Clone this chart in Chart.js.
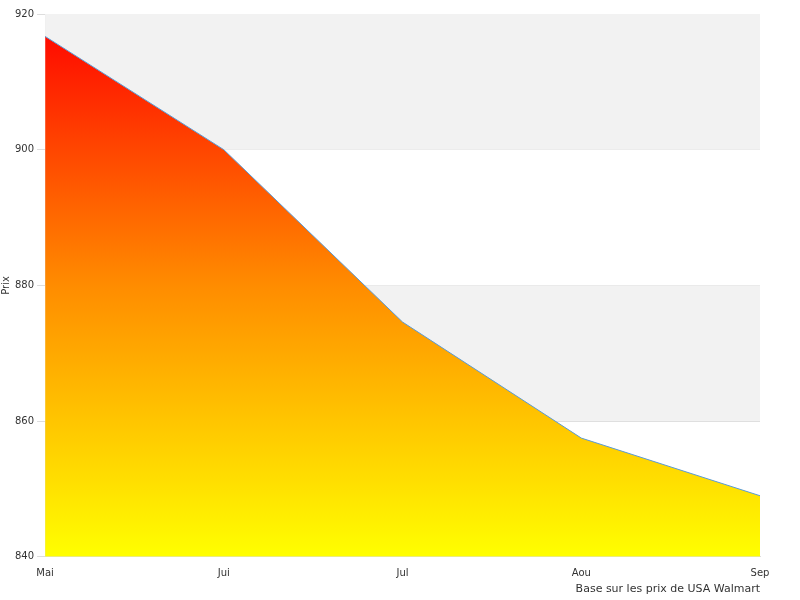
<!DOCTYPE html><html><head><script src="https://cdn.jsdelivr.net/npm/chart.js@4"></script>
<style>body{margin:0;background:#fff}#w{width:800px;height:600px}</style></head><body><div id="w"><canvas id="c"></canvas></div>
<script>
const labels=["Mai","Jui","Jul","Aou","Sep"];
const prices=[916.7,900,874.6,857.5,849];
const bands={id:'bands',beforeDatasetsDraw(ch){const {ctx,chartArea:a,scales:{y}}=ch;ctx.save();ctx.fillStyle='#f2f2f2';
[[900,920],[860,880]].forEach(([l,h])=>{const t=y.getPixelForValue(h),b=y.getPixelForValue(l);ctx.fillRect(a.left,t,a.right-a.left,b-t);});ctx.restore();}};
new Chart(document.getElementById('c'),{type:'line',data:{labels,datasets:[{data:prices,borderColor:'#5b9bd5',borderWidth:1,pointRadius:0,tension:0,fill:'origin',
backgroundColor(c){const a=c.chart.chartArea;if(!a)return 'red';const g=c.chart.ctx.createLinearGradient(0,a.top,0,a.bottom);g.addColorStop(0,'#ff0000');g.addColorStop(0.5,'#ff8c00');g.addColorStop(1,'#ffff00');return g;}}]},
options:{responsive:true,maintainAspectRatio:false,animation:false,layout:{padding:{top:14,right:40,left:0,bottom:0}},
plugins:{legend:{display:false},tooltip:{enabled:false}},
scales:{x:{offset:false,grid:{display:false},border:{color:'#ddd'},ticks:{color:'#333',font:{family:'DejaVu Sans',size:10},maxRotation:0},
title:{display:true,text:'Base sur les prix de USA Walmart',align:'end',color:'#333',font:{family:'DejaVu Sans',size:11},padding:{top:0}}},
y:{min:840,max:920,grid:{color:'#ddd'},border:{color:'#ddd'},ticks:{stepSize:20,color:'#333',font:{family:'DejaVu Sans',size:10}},
title:{display:true,text:'Prix',color:'#333',font:{family:'DejaVu Sans',size:10},padding:0}}}},plugins:[bands]});
</script></body></html>
